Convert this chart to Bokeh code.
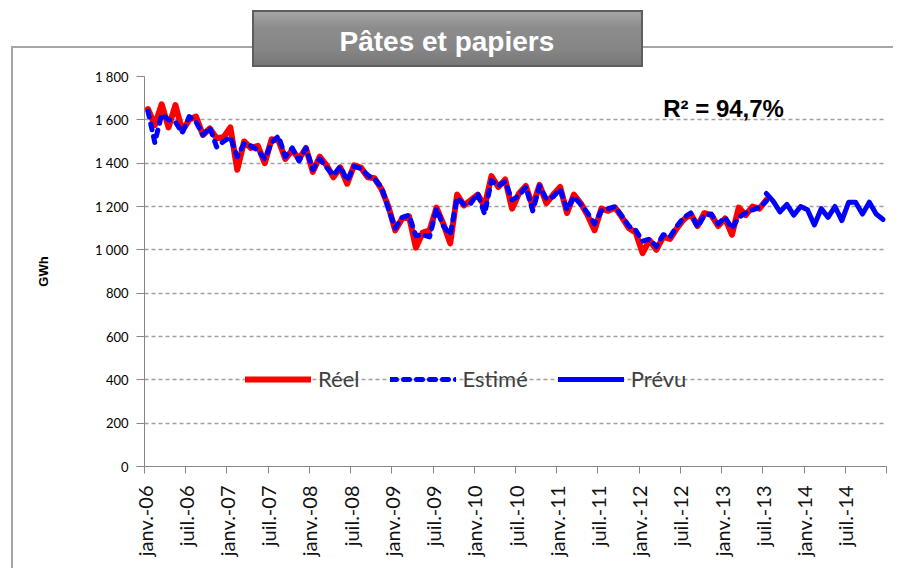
from math import pi
from bokeh.plotting import figure
from bokeh.models import (FixedTicker, Legend, LegendItem, Label,
                          ColumnDataSource, Range1d)
from bokeh.embed import file_html
from bokeh.resources import INLINE

# ---------------- data ----------------
tick_labels = ["janv.-06", "juil.-06", "janv.-07", "juil.-07", "janv.-08", "juil.-08",
               "janv.-09", "juil.-09", "janv.-10", "juil.-10", "janv.-11", "juil.-11",
               "janv.-12", "juil.-12", "janv.-13", "juil.-13", "janv.-14", "juil.-14"]

# monthly values, Jan 2006 .. Jul 2013
reel = [1650, 1575, 1672, 1565, 1668, 1550, 1600, 1615, 1530, 1560, 1515, 1520,
        1565, 1370, 1500, 1470, 1480, 1400, 1510, 1505, 1420, 1460, 1420, 1470,
        1360, 1430, 1390, 1335, 1380, 1305, 1390, 1380, 1335, 1330, 1280, 1200,
        1090, 1145, 1155, 1010, 1080, 1090, 1195, 1120, 1030, 1255, 1205, 1230,
        1255, 1200, 1340, 1290, 1325, 1190, 1260, 1295, 1200, 1300, 1215, 1255,
        1290, 1170, 1255, 1215, 1160, 1090, 1190, 1180, 1195, 1150, 1100, 1080,
        985, 1045, 1000, 1060, 1050, 1100, 1140, 1165, 1110, 1170, 1160, 1110,
        1145, 1070, 1195, 1160, 1200, 1190, 1230]

estime = [1640, 1495, 1625, 1600, 1590, 1540, 1615, 1590, 1530, 1565, 1475, 1500,
          1520, 1430, 1490, 1480, 1460, 1420, 1495, 1525, 1430, 1470, 1410, 1470,
          1370, 1420, 1380, 1345, 1385, 1320, 1385, 1375, 1345, 1325, 1290, 1190,
          1100, 1150, 1160, 1065, 1070, 1060, 1190, 1110, 1070, 1240, 1210, 1215,
          1260, 1165, 1320, 1295, 1315, 1230, 1250, 1290, 1180, 1295, 1235, 1245,
          1280, 1185, 1245, 1210, 1170, 1120, 1180, 1190, 1200, 1155, 1110, 1090,
          1040, 1050, 1015, 1070, 1060, 1110, 1150, 1170, 1105, 1160, 1165, 1120,
          1150, 1100, 1150, 1170, 1185, 1195, 1225]

# forecast, Jul 2013 .. Dec 2014
prevu = [1260, 1225, 1175, 1210, 1160, 1200, 1185, 1115, 1190, 1150, 1200, 1135,
         1220, 1220, 1165, 1220, 1165, 1140]

y_ticks = [0, 200, 400, 600, 800, 1000, 1200, 1400, 1600, 1800]
y_labels = ["0", "200", "400", "600", "800", "1 000", "1 200", "1 400", "1 600", "1 800"]
r2_text = "R² = 94,7%"
title_text = "Pâtes et papiers"

# month positions (centre of each month, axis in months from Jan 2006)
x_reel = [i + 0.5 for i in range(len(reel))]
x_prevu = [len(reel) - 1 + i + 0.5 for i in range(len(prevu))]

# ---------------- figure ----------------
# page decoration (outer frame line and grey title box) drawn with CSS
# behind a transparent border area
deco = {
    "background-color": "white",
    "background-image": ", ".join([
        "linear-gradient(#a4a4a4, #8c8c8c 30%, #868686 70%, #777777)",  # title box face
        "linear-gradient(#5e5e5e, #5e5e5e)",               # title box border
        "linear-gradient(#a6a6a6, #a6a6a6)",               # frame top line
        "linear-gradient(#a6a6a6, #a6a6a6)",               # frame left line
    ]),
    "background-size": "387px 53px, 391px 57px, 2000px 2px, 2px 2000px",
    "background-position": "254px 12px, 252px 10px, 12px 46px, 11px 46px",
    "background-repeat": "no-repeat",
}

p = figure(width=893, height=568, output_backend="svg", toolbar_location=None,
           x_range=Range1d(0, 108), y_range=Range1d(0, 1800),
           min_border_left=144, min_border_right=7, min_border_top=76,
           min_border_bottom=102, styles=deco)
p.outline_line_color = None
p.background_fill_color = "white"
p.border_fill_alpha = 0

# title (white bold text over the grey box)
p.title.text = title_text
p.title.align = "left"
p.title.offset = 195
p.title.vertical_align = "bottom"
p.title.standoff = 40
p.title.text_color = "white"
p.title.text_font = "Liberation Sans"
p.title.text_font_style = "bold"
p.title.text_font_size = "28px"

# grid
p.xgrid.visible = False
p.ygrid.ticker = FixedTicker(ticks=y_ticks)
p.ygrid.grid_line_color = "#a0a0a0"
p.ygrid.grid_line_dash = "4 3"
p.ygrid.grid_line_width = 1.5

# y axis
p.yaxis.ticker = FixedTicker(ticks=y_ticks)
p.yaxis.major_label_overrides = {t: l for t, l in zip(y_ticks, y_labels)}
p.yaxis.major_tick_out = 8
p.yaxis.major_tick_in = 0
p.yaxis.minor_tick_line_color = None
p.yaxis.axis_line_color = "#868686"
p.yaxis.major_tick_line_color = "#868686"
p.yaxis.major_label_text_font = "Lato"
p.yaxis.major_label_text_font_size = "13px"
p.yaxis.major_label_text_color = "#000000"
p.yaxis.major_label_standoff = 8
p.yaxis.axis_label = "GWh"
p.yaxis.axis_label_text_font = "Liberation Sans"
p.yaxis.axis_label_text_font_style = "bold"
p.yaxis.axis_label_text_font_size = "13px"
p.yaxis.axis_label_text_color = "#000000"
p.yaxis.axis_label_standoff = 41

# x axis
x_ticks = list(range(0, 109, 6))
p.xaxis.ticker = FixedTicker(ticks=x_ticks)
ov = {x_ticks[i]: tick_labels[i] for i in range(len(tick_labels))}
ov[108] = ""
p.xaxis.major_label_overrides = ov
p.xaxis.major_label_orientation = pi / 2
p.xaxis.major_tick_out = 7
p.xaxis.major_tick_in = 0
p.xaxis.minor_tick_line_color = None
p.xaxis.axis_line_color = "#868686"
p.xaxis.major_tick_line_color = "#868686"
p.xaxis.major_label_text_font = "Lato"
p.xaxis.major_label_text_font_size = "20px"
p.xaxis.major_label_text_color = "#111111"
p.xaxis.major_label_standoff = 12

# series
src_r = ColumnDataSource(dict(x=x_reel, y=reel))
src_e = ColumnDataSource(dict(x=x_reel, y=estime))
src_p = ColumnDataSource(dict(x=x_prevu, y=prevu))
r_reel = p.line("x", "y", source=src_r, line_color="#ff0000", line_width=6,
                line_join="round", line_cap="round")
r_est = p.line("x", "y", source=src_e, line_color="#0000ff", line_width=5,
               line_dash="6 7", line_join="round", line_cap="round")
r_prev = p.line("x", "y", source=src_p, line_color="#0000ff", line_width=5,
                line_join="round", line_cap="round")

legend = Legend(items=[LegendItem(label="Réel", renderers=[r_reel]),
                       LegendItem(label="Estimé", renderers=[r_est]),
                       LegendItem(label="Prévu", renderers=[r_prev])],
                location=(101, 74), orientation="horizontal",
                background_fill_alpha=0, border_line_color=None,
                glyph_width=66, glyph_height=24, label_height=24,
                label_standoff=7, spacing=30, padding=0, margin=0,
                label_text_font="Lato", label_text_font_size="22px",
                label_text_color="#404040")
p.add_layout(legend)

p.add_layout(Label(x=75.5, y=1652, text=r2_text, text_baseline="middle",
                   text_font="Liberation Sans", text_font_style="bold",
                   text_font_size="24px", text_color="#000000"))

open("out.html", "w").write(file_html(p, INLINE))
